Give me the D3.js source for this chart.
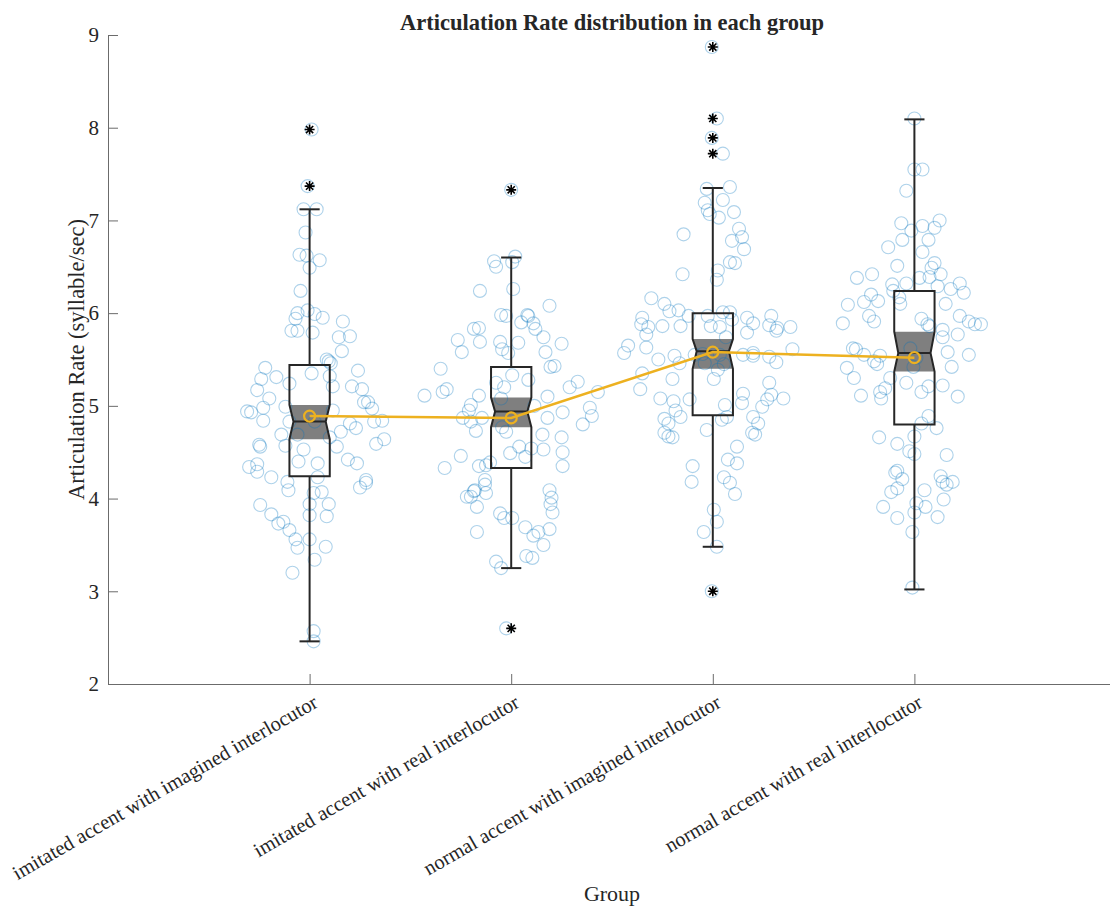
<!DOCTYPE html>
<html>
  <head>
    <meta charset="utf-8" />
    <title>Articulation Rate distribution in each group</title>
    <script src="https://d3js.org/d3.v7.min.js"></script>
    <style>
      body { margin: 0; background: #fff; }
      text { font-family: "Liberation Serif", "Times New Roman", serif; fill: #262626; }
    </style>
  </head>
  <body>
    <svg id="chart" width="1110" height="908"></svg>
    <script>
      // group names (x categories)
      const groups = [
        "imitated accent with imagined interlocutor",
        "imitated accent with real interlocutor",
        "normal accent with imagined interlocutor",
        "normal accent with real interlocutor"
      ];

      // box statistics
      const whiskerLo = [2.46, 3.25, 3.48, 3.02];
      const q1 = [4.24, 4.33, 4.90, 4.80];
      const notchLo = [4.64, 4.77, 5.40, 5.37];
      const medians = [4.83, 4.94, 5.59, 5.57];
      const notchHi = [5.01, 5.09, 5.72, 5.80];
      const q3 = [5.44, 5.42, 6.00, 6.24];
      const whiskerHi = [7.12, 6.60, 7.35, 8.09];
      const means = [4.89, 4.87, 5.58, 5.52];
      const outliers = [[7.98, 7.37], [7.33, 2.60], [8.87, 8.10, 7.89, 7.72, 3.00], []];

      // raw points: [jitter offset, rate]
      const pts1 = [
        [0.01,7.98],[-0.01,7.37],[-0.03,7.12],[0.035,7.12],[-0.02,6.87],[-0.05,6.63],[-0.015,6.62],[0.05,6.57],[0,6.49],[-0.045,6.24],
        [-0.06,6.00],[-0.01,6.03],[0.025,5.99],[0.065,5.95],[0.165,5.91],[-0.07,5.94],[-0.09,5.81],[-0.06,5.81],[0.015,5.79],[0.145,5.74],
        [0.2,5.75],[0.16,5.59],[0.085,5.50],[0.095,5.48],[0.105,5.46],[-0.22,5.41],[-0.24,5.29],[-0.165,5.31],[-0.1,5.24],[0.01,5.35],
        [0.1,5.32],[0.115,5.21],[0.21,5.21],[0.24,5.38],[0.26,5.18],[-0.26,5.17],[-0.2,5.08],[-0.23,4.98],[-0.31,4.94],[-0.29,4.93],
        [-0.12,4.99],[0.115,4.95],[0.27,5.04],[0.29,5.04],[0.31,4.97],[-0.23,4.84],[-0.1,4.83],[0.025,4.83],[0.2,4.81],[0.23,4.76],
        [0.32,4.83],[0.36,4.84],[-0.14,4.69],[-0.06,4.69],[-0.12,4.57],[-0.03,4.53],[0.1,4.66],[0.155,4.72],[0.135,4.56],[-0.25,4.58],
        [-0.245,4.56],[0.33,4.59],[0.37,4.64],[-0.055,4.40],[0.04,4.38],[0.19,4.42],[0.235,4.38],[-0.3,4.34],[-0.26,4.37],[-0.26,4.29],
        [-0.19,4.23],[0.04,4.23],[-0.11,4.18],[-0.105,4.09],[0.02,4.06],[0.06,4.07],[0.25,4.12],[0.28,4.17],[0.28,4.20],[-0.245,3.93],
        [0,3.94],[0.095,3.94],[-0.19,3.83],[0,3.82],[0.085,3.81],[-0.155,3.73],[-0.13,3.75],[-0.1,3.66],[-0.07,3.56],[0,3.56],
        [-0.06,3.47],[0.08,3.48],[0.025,3.34],[-0.085,3.20],[0.02,2.57],[0.02,2.46]
      ];
      const pts2 = [
        [0,7.33],[-0.085,6.56],[-0.075,6.50],[0.005,6.55],[0.02,6.61],[-0.155,6.24],[0.01,6.26],[0.19,6.08],[-0.05,5.98],[-0.025,5.97],
        [0.05,5.90],[0.08,5.98],[0.085,5.97],[0.11,5.89],[0.12,5.83],[-0.185,5.83],[-0.16,5.84],[0.16,5.74],[-0.265,5.71],[-0.245,5.58],
        [-0.155,5.69],[-0.055,5.69],[-0.045,5.61],[-0.015,5.57],[0.035,5.68],[0.17,5.58],[0.25,5.67],[0.195,5.42],[0.215,5.43],[-0.35,5.40],
        [0.005,5.33],[0.085,5.28],[-0.43,5.11],[-0.34,5.15],[-0.32,5.18],[-0.075,5.25],[-0.035,5.20],[-0.16,5.11],[0.29,5.20],[0.33,5.26],
        [0.43,5.15],[0.18,5.10],[-0.2,5.01],[-0.21,4.95],[-0.05,5.08],[0.115,5.00],[0.39,4.98],[-0.24,4.87],[-0.2,4.83],[-0.145,4.87],
        [0.18,4.87],[0.255,4.93],[0.4,4.89],[0.355,4.80],[-0.175,4.73],[-0.025,4.72],[-0.045,4.77],[0.155,4.69],[0.25,4.66],[0.04,4.56],
        [0.1,4.54],[0.16,4.53],[-0.005,4.49],[0.07,4.45],[0.255,4.50],[-0.25,4.46],[-0.105,4.39],[-0.16,4.35],[-0.125,4.36],[0.255,4.35],
        [-0.33,4.33],[-0.13,4.20],[-0.13,4.15],[0.19,4.09],[-0.18,4.09],[-0.22,4.02],[-0.125,4.06],[-0.2,4.02],[0.2,4.01],[-0.185,4.08],
        [0.195,3.94],[0.205,3.85],[-0.17,3.91],[-0.055,3.84],[-0.035,3.79],[0.005,3.79],[-0.17,3.64],[0.07,3.69],[0.11,3.60],[0.135,3.64],
        [0.19,3.67],[0.16,3.50],[0.075,3.38],[0.105,3.36],[-0.075,3.32],[-0.05,3.25],[-0.025,2.60]
      ];
      const pts3 = [
        [-0.005,8.87],[0.02,8.10],[-0.005,7.89],[0.05,7.72],[-0.03,7.34],[0.085,7.36],[-0.04,7.19],[0.05,7.22],[-0.025,7.11],[-0.015,7.07],
        [0.03,7.03],[0.105,7.09],[0.13,6.91],[0.095,6.78],[0.145,6.82],[0.155,6.69],[-0.145,6.85],[0.085,6.55],[0.11,6.54],[0.025,6.46],
        [0.02,6.36],[-0.15,6.42],[-0.305,6.16],[-0.24,6.10],[-0.215,6.02],[-0.17,6.03],[-0.12,5.97],[-0.025,5.97],[0.05,6.01],[0.085,6.01],
        [0.095,5.93],[0.17,5.95],[0.2,5.89],[0.29,5.97],[-0.35,5.95],[-0.355,5.88],[-0.32,5.85],[-0.25,5.86],[-0.16,5.86],[-0.01,5.86],
        [0.035,5.85],[0.28,5.87],[0.32,5.84],[0.385,5.85],[-0.33,5.77],[0.065,5.74],[0.17,5.79],[0.315,5.81],[0.395,5.61],[-0.42,5.65],
        [-0.44,5.57],[-0.33,5.63],[-0.27,5.50],[-0.19,5.54],[-0.165,5.46],[-0.09,5.55],[-0.05,5.56],[-0.04,5.46],[0.035,5.55],[0.055,5.45],
        [0.15,5.55],[0.2,5.57],[0.2,5.54],[0.28,5.53],[0.315,5.47],[-0.35,5.35],[-0.2,5.29],[0.005,5.29],[0.025,5.39],[-0.36,5.18],
        [-0.26,5.08],[-0.195,5.05],[-0.115,5.07],[-0.185,4.95],[-0.16,4.88],[0.06,5.01],[0.15,5.13],[0.145,5.03],[0.28,5.25],[0.29,5.12],
        [0.27,5.07],[0.35,5.08],[0.245,4.99],[0.2,4.88],[0.225,4.81],[0.195,4.71],[0.21,4.69],[-0.24,4.86],[-0.22,4.81],[-0.24,4.71],
        [-0.22,4.67],[-0.2,4.66],[0.045,4.85],[0.07,4.88],[-0.03,4.74],[0.12,4.56],[0.075,4.42],[0.12,4.38],[-0.1,4.35],[-0.105,4.18],
        [0.055,4.23],[0.085,4.17],[0.11,4.05],[0.005,3.88],[0.02,3.75],[-0.045,3.64],[0.02,3.48],[-0.005,3.00]
      ];
      const pts4 = [
        [0,8.10],[0,7.55],[0.04,7.55],[-0.04,7.32],[-0.065,6.97],[0.04,6.94],[0.1,6.92],[0.125,7.00],[-0.015,6.89],[-0.06,6.79],
        [0.07,6.79],[-0.13,6.71],[0.04,6.66],[-0.085,6.51],[0.1,6.54],[0.085,6.49],[0.13,6.42],[0.075,6.39],[0.025,6.38],[-0.04,6.32],
        [-0.11,6.31],[-0.105,6.24],[-0.285,6.38],[-0.21,6.42],[0.115,6.29],[0.18,6.26],[0.225,6.32],[0.245,6.22],[-0.215,6.20],[-0.25,6.12],
        [-0.18,6.13],[-0.33,6.09],[-0.075,6.17],[-0.07,6.10],[0.155,6.10],[-0.225,5.97],[-0.2,5.91],[-0.355,5.89],[0.035,5.94],[0.065,5.88],
        [0.075,5.86],[0.225,5.97],[0.27,5.91],[0.3,5.88],[0.33,5.88],[0.14,5.82],[0.14,5.74],[0.215,5.77],[-0.305,5.62],[-0.29,5.61],
        [-0.25,5.55],[-0.2,5.48],[-0.17,5.54],[-0.185,5.45],[-0.335,5.41],[-0.3,5.30],[-0.02,5.62],[0.01,5.52],[0.165,5.58],[0.27,5.55],
        [0.185,5.42],[-0.005,5.42],[-0.04,5.25],[-0.12,5.30],[-0.145,5.19],[-0.17,5.15],[0.035,5.15],[0.07,5.21],[0.14,5.22],[-0.265,5.11],
        [0.215,5.10],[-0.165,5.08],[0.07,4.89],[0.035,4.81],[0.11,4.76],[-0.175,4.66],[0,4.67],[-0.085,4.59],[-0.025,4.51],[0,4.48],
        [0.16,4.47],[-0.085,4.30],[-0.095,4.28],[-0.06,4.21],[0.13,4.24],[0.14,4.18],[0.16,4.15],[0.19,4.18],[-0.115,4.07],[-0.085,4.11],
        [0.05,4.09],[0.145,3.99],[0.01,3.95],[-0.155,3.91],[0.055,3.91],[0,3.85],[-0.085,3.79],[0.115,3.80],[-0.01,3.64],[-0.01,3.04]
      ];
      const points = [pts1, pts2, pts3, pts4];

      const yTicks = [2, 3, 4, 5, 6, 7, 8, 9];

      const svg = d3.select("#chart");
      const x = d3.scaleLinear().domain([0, 5]).range([108, 1116]);
      const y = d3.scaleLinear().domain([2, 9]).range([684, 35]);

      const halfBox = 0.1;   // box half width (x units)
      const notchIn = 0.02;  // notch depth
      const halfCap = 0.05;  // whisker cap half width

      // axes
      const yAxis = svg.append("g")
        .attr("transform", "translate(" + x(0) + ",0)")
        .call(
          d3.axisLeft(y)
            .tickValues(yTicks)
            .tickFormat(d3.format("d"))
            .tickSizeInner(-10)
            .tickSizeOuter(0)
            .tickPadding(9)
        );
      const xAxis = svg.append("g")
        .attr("transform", "translate(0," + y(2) + ")")
        .call(d3.axisBottom(x).tickValues([1, 2, 3, 4]).tickSizeInner(-10).tickSizeOuter(0).tickFormat(""));
      svg.selectAll(".domain, .tick line").attr("stroke", "#6b6b6b");
      yAxis.selectAll("text")
        .attr("font-size", 21)
        .attr("fill", "#262626")
        .style("font-family", "Liberation Serif");

      // rotated group labels
      svg.append("g").selectAll("text.glabel")
        .data(groups)
        .join("text")
        .attr("class", "glabel")
        .attr("text-anchor", "end")
        .attr("font-size", 20.5)
        .attr("transform", (d, i) => "translate(" + (x(i + 1) + 6) + "," + (y(2) + 16) + ") rotate(-30)")
        .attr("dy", "0.35em")
        .text((d) => d);

      // notch shading
      const notchShape = (i) => {
        const c = i + 1;
        return [
          [x(c - halfBox), y(notchHi[i])],
          [x(c + halfBox), y(notchHi[i])],
          [x(c + halfBox - notchIn), y(medians[i])],
          [x(c + halfBox), y(notchLo[i])],
          [x(c - halfBox), y(notchLo[i])],
          [x(c - halfBox + notchIn), y(medians[i])]
        ];
      };
      svg.append("g").selectAll("polygon")
        .data(groups)
        .join("polygon")
        .attr("points", (d, i) => notchShape(i).map((p) => p.join(",")).join(" "))
        .attr("fill", "#7f7f7f");

      // raw points
      const dots = svg.append("g");
      points.forEach((pts, i) => {
        dots.selectAll("circle.g" + i)
          .data(pts)
          .join("circle")
          .attr("class", "g" + i)
          .attr("cx", (d) => x(i + 1 + d[0]))
          .attr("cy", (d) => y(d[1]))
          .attr("r", 6.5)
          .attr("fill", "none")
          .attr("stroke", "rgba(0,114,189,0.32)")
          .attr("stroke-width", 1.1);
      });

      // boxes
      const boxes = svg.append("g").attr("stroke", "#262626").attr("stroke-width", 2).attr("fill", "none");
      groups.forEach((g, i) => {
        const c = i + 1;
        const outline = [
          [x(c - halfBox), y(q3[i])],
          [x(c + halfBox), y(q3[i])],
          [x(c + halfBox), y(notchHi[i])],
          [x(c + halfBox - notchIn), y(medians[i])],
          [x(c + halfBox), y(notchLo[i])],
          [x(c + halfBox), y(q1[i])],
          [x(c - halfBox), y(q1[i])],
          [x(c - halfBox), y(notchLo[i])],
          [x(c - halfBox + notchIn), y(medians[i])],
          [x(c - halfBox), y(notchHi[i])]
        ];
        boxes.append("path").attr("d", "M" + outline.join("L") + "Z").attr("stroke-linejoin", "miter");
        // median
        boxes.append("line")
          .attr("x1", x(c - halfBox + notchIn)).attr("x2", x(c + halfBox - notchIn))
          .attr("y1", y(medians[i])).attr("y2", y(medians[i]));
        // whiskers
        boxes.append("line").attr("x1", x(c)).attr("x2", x(c)).attr("y1", y(q3[i])).attr("y2", y(whiskerHi[i]));
        boxes.append("line").attr("x1", x(c)).attr("x2", x(c)).attr("y1", y(q1[i])).attr("y2", y(whiskerLo[i]));
        boxes.append("line").attr("x1", x(c - halfCap)).attr("x2", x(c + halfCap)).attr("y1", y(whiskerHi[i])).attr("y2", y(whiskerHi[i]));
        boxes.append("line").attr("x1", x(c - halfCap)).attr("x2", x(c + halfCap)).attr("y1", y(whiskerLo[i])).attr("y2", y(whiskerLo[i]));
        // outliers as asterisks
        outliers[i].forEach((v) => {
          boxes.append("path")
            .attr("transform", "translate(" + x(c) + "," + y(v) + ")")
            .attr("d", "M-5,0L5,0M0,-5L0,5M-3.6,-3.6L3.6,3.6M-3.6,3.6L3.6,-3.6")
            .attr("stroke", "#000")
            .attr("stroke-width", 1.6);
        });
      });

      // mean line
      const meanLine = d3.line().x((d, i) => x(i + 1)).y((d) => y(d));
      svg.append("path")
        .attr("d", meanLine(means))
        .attr("fill", "none")
        .attr("stroke", "#EDB120")
        .attr("stroke-width", 2.5);
      svg.append("g").selectAll("circle")
        .data(means)
        .join("circle")
        .attr("cx", (d, i) => x(i + 1))
        .attr("cy", (d) => y(d))
        .attr("r", 5.5)
        .attr("fill", "none")
        .attr("stroke", "#EDB120")
        .attr("stroke-width", 2.2);

      // titles
      svg.append("text")
        .attr("x", 612).attr("y", 30)
        .attr("text-anchor", "middle")
        .attr("font-size", 22.5)
        .attr("font-weight", "bold")
        .attr("fill", "#000")
        .text("Articulation Rate distribution in each group");
      svg.append("text")
        .attr("transform", "translate(84," + (y(2) + y(9)) / 2 + ") rotate(-90)")
        .attr("text-anchor", "middle")
        .attr("font-size", 22.5)
        .text("Articulation Rate (syllable/sec)");
      svg.append("text")
        .attr("x", 612).attr("y", 901)
        .attr("text-anchor", "middle")
        .attr("font-size", 22)
        .text("Group");
    </script>
  </body>
</html>
